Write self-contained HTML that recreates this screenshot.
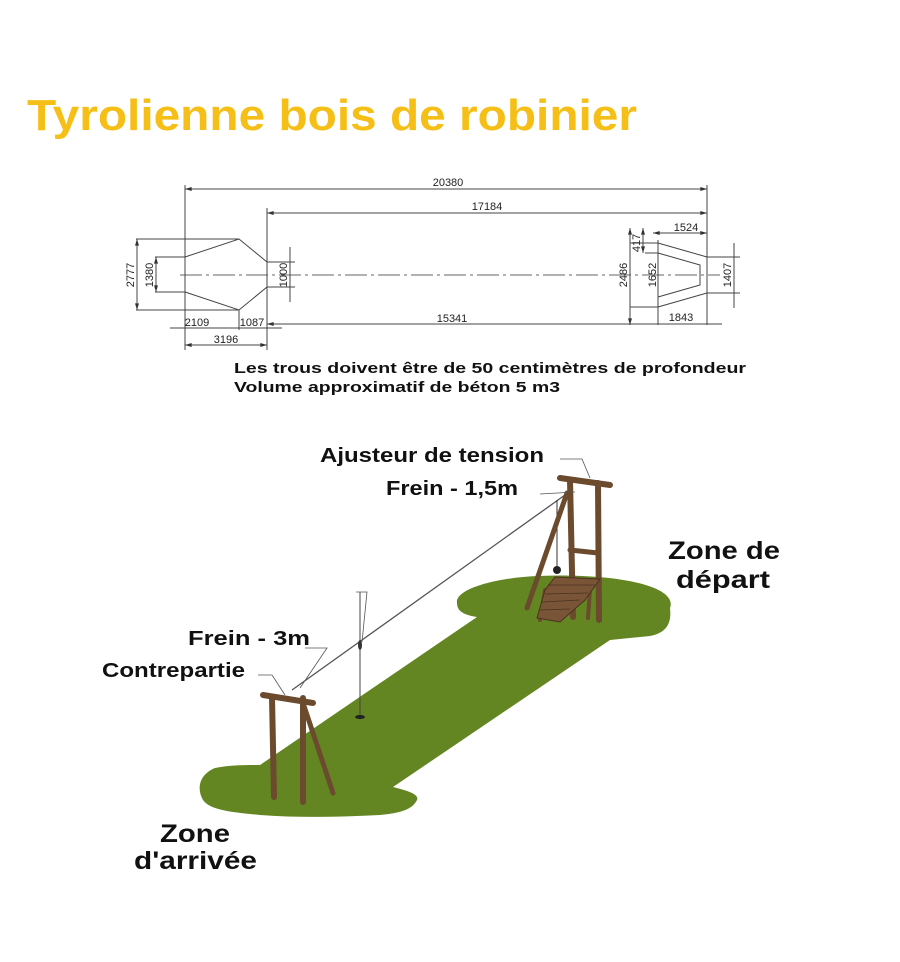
<!DOCTYPE html>
<html><head><meta charset="utf-8"><style>
html,body{margin:0;padding:0;background:#fff;}
svg{display:block;font-family:"Liberation Sans",sans-serif;}
</style></head><body>
<svg width="900" height="962" viewBox="0 0 900 962" xmlns="http://www.w3.org/2000/svg">
<defs>
<marker id="a" viewBox="0 0 10 6" refX="10" refY="3" markerWidth="8" markerHeight="4" orient="auto-start-reverse"><path d="M0,0 L10,3 L0,6 z" fill="#333"/></marker>
</defs>
<text x="27" y="130" font-size="44" font-weight="bold" fill="#f5bf17" textLength="610" lengthAdjust="spacingAndGlyphs">Tyrolienne bois de robinier</text>

<g stroke="#444" stroke-width="1" fill="none">
<!-- extension lines -->
<line x1="185" y1="185" x2="185" y2="350"/>
<line x1="267" y1="208" x2="267" y2="350"/>
<line x1="707" y1="185" x2="707" y2="325"/>
<!-- top dims -->
<line x1="185" y1="189" x2="707" y2="189" marker-start="url(#a)" marker-end="url(#a)"/>
<line x1="267" y1="213" x2="707" y2="213" marker-start="url(#a)" marker-end="url(#a)"/>
<!-- center line -->
<line x1="180" y1="275" x2="720" y2="275" stroke-dasharray="22,4,3,4" stroke="#666"/>
<!-- left shape -->
<polygon points="185,257 239,239 267,262 267,287 239,310 185,292"/>
<line x1="136" y1="239" x2="239" y2="239"/><line x1="136" y1="310" x2="239" y2="310"/>
<line x1="155" y1="257" x2="185" y2="257"/><line x1="155" y1="292" x2="185" y2="292"/>
<line x1="137" y1="239" x2="137" y2="310" marker-start="url(#a)" marker-end="url(#a)"/>
<line x1="156" y1="257" x2="156" y2="292" marker-start="url(#a)" marker-end="url(#a)"/>
<line x1="267" y1="262" x2="295" y2="262"/><line x1="267" y1="287" x2="295" y2="287"/>
<line x1="290" y1="247" x2="290" y2="302"/>
<line x1="239" y1="310" x2="239" y2="330"/>
<line x1="170" y1="328" x2="282" y2="328"/>
<line x1="185" y1="345" x2="267" y2="345" marker-start="url(#a)" marker-end="url(#a)"/>
<line x1="267" y1="324" x2="707" y2="324" marker-start="url(#a)"/>
<!-- right shape -->
<polyline points="658,243 707,257 707,293 658,307"/>
<polyline points="658,253 700,265 700,285 658,297"/>
<line x1="658" y1="240" x2="658" y2="325"/>
<line x1="630" y1="243" x2="658" y2="243"/><line x1="630" y1="307" x2="658" y2="307"/>
<line x1="645" y1="253" x2="658" y2="253"/>
<line x1="630" y1="228" x2="630" y2="325" marker-start="url(#a)" marker-end="url(#a)"/>
<line x1="643" y1="228" x2="643" y2="253" marker-start="url(#a)" marker-end="url(#a)"/>
<line x1="653" y1="233" x2="707" y2="233" marker-start="url(#a)" marker-end="url(#a)"/>
<line x1="707" y1="257" x2="740" y2="257"/><line x1="707" y1="293" x2="740" y2="293"/>
<line x1="734" y1="243" x2="734" y2="308"/>
<line x1="652" y1="324" x2="722" y2="324"/>
</g>
<g font-size="11" fill="#222">
<text x="448" y="186" text-anchor="middle">20380</text>
<text x="487" y="210" text-anchor="middle">17184</text>
<text x="197" y="326" text-anchor="middle">2109</text>
<text x="252" y="326" text-anchor="middle">1087</text>
<text x="226" y="343" text-anchor="middle">3196</text>
<text x="452" y="322" text-anchor="middle">15341</text>
<text x="681" y="321" text-anchor="middle">1843</text>
<text x="686" y="231" text-anchor="middle">1524</text>
<text transform="translate(134,275) rotate(-90)" text-anchor="middle">2777</text>
<text transform="translate(153,275) rotate(-90)" text-anchor="middle">1380</text>
<text transform="translate(287,275) rotate(-90)" text-anchor="middle">1000</text>
<text transform="translate(627,275) rotate(-90)" text-anchor="middle">2486</text>
<text transform="translate(640,243) rotate(-90)" text-anchor="middle">417</text>
<text transform="translate(656,275) rotate(-90)" text-anchor="middle">1652</text>
<text transform="translate(731,275) rotate(-90)" text-anchor="middle">1407</text>
</g>
<g font-size="15" font-weight="bold" fill="#111">
<text x="234" y="373" textLength="512" lengthAdjust="spacingAndGlyphs">Les trous doivent être de 50 centimètres de profondeur</text>
<text x="234" y="392" textLength="326" lengthAdjust="spacingAndGlyphs">Volume approximatif de béton 5 m3</text>
</g>

<!-- ground -->
<path d="M457,603 C455,590 490,580 523,577 C560,574 600,576 623,580 C655,585 675,595 670,608 C672,625 665,633 650,636 L610,640 L393,787 C405,790 420,794 417,800 C412,810 400,813 380,815 C340,817 300,818 260,815 C230,812 210,810 203,800 C196,788 200,774 215,768 C230,765 245,765 260,765 L477,617 C465,615 457,612 457,603 Z" fill="#638622"/>
<!-- cable -->
<line x1="292" y1="690" x2="565" y2="495" stroke="#555" stroke-width="1.3"/>
<line x1="360" y1="592" x2="360" y2="717" stroke="#444" stroke-width="1"/>
<ellipse cx="360" cy="717" rx="5" ry="2" fill="#222"/>
<ellipse cx="360" cy="645" rx="2" ry="5" fill="#333"/>
<line x1="557" y1="500" x2="557" y2="570" stroke="#333"/>
<circle cx="557" cy="570" r="4" fill="#222"/>
<!-- right frame -->
<g stroke="#6b4a2e" stroke-linecap="round">
<line x1="567" y1="493" x2="527" y2="608" stroke-width="5"/>
<line x1="570" y1="480" x2="573" y2="617" stroke-width="6"/>
<line x1="598" y1="483" x2="599" y2="620" stroke-width="6"/>
<line x1="570" y1="550" x2="598" y2="553" stroke-width="5"/>
<line x1="560" y1="478" x2="610" y2="485" stroke-width="6"/>
<line x1="545" y1="590" x2="540" y2="620" stroke-width="4"/>
<line x1="590" y1="590" x2="588" y2="618" stroke-width="4"/>
</g>
<polygon points="555,577 600,579 585,600 560,622 537,618 545,590" fill="#7a5436" stroke="#4a3220" stroke-width="1"/>
<g stroke="#4a3220" stroke-width="0.8"><line x1="548" y1="585" x2="595" y2="585"/><line x1="545" y1="594" x2="588" y2="593"/><line x1="542" y1="602" x2="580" y2="600"/><line x1="540" y1="610" x2="570" y2="609"/></g>
<!-- left frame -->
<g stroke="#6b4a2e" stroke-linecap="round">
<line x1="272" y1="697" x2="274" y2="797" stroke-width="6"/>
<line x1="303" y1="698" x2="303" y2="802" stroke-width="6"/>
<line x1="303" y1="703" x2="333" y2="793" stroke-width="5"/>
<line x1="263" y1="695" x2="313" y2="703" stroke-width="6"/>
</g>
<!-- leaders -->
<g stroke="#555" fill="none" stroke-width="0.8">
<polyline points="560,459 582,459 590,478"/>
<polyline points="540,494 575,492"/>
<polyline points="305,648 327,648 300,688"/>
<polyline points="258,675 272,675 285,695"/>
<polyline points="356,592 367,592 362,642"/>
</g>
<g font-weight="bold" fill="#111" font-size="20">
<text x="320" y="462" textLength="224" lengthAdjust="spacingAndGlyphs">Ajusteur de tension</text>
<text x="386" y="495" textLength="132" lengthAdjust="spacingAndGlyphs">Frein - 1,5m</text>
<text x="188" y="645" textLength="122" lengthAdjust="spacingAndGlyphs">Frein  - 3m</text>
<text x="102" y="677" textLength="143" lengthAdjust="spacingAndGlyphs">Contrepartie</text>
</g>
<g font-weight="bold" fill="#111" font-size="25">
<text x="668" y="559" textLength="112" lengthAdjust="spacingAndGlyphs">Zone de</text>
<text x="676" y="588" textLength="94" lengthAdjust="spacingAndGlyphs">départ</text>
<text x="160" y="842" textLength="70" lengthAdjust="spacingAndGlyphs">Zone</text>
<text x="134" y="869" textLength="123" lengthAdjust="spacingAndGlyphs">d'arrivée</text>
</g>
</svg>
</body></html>
